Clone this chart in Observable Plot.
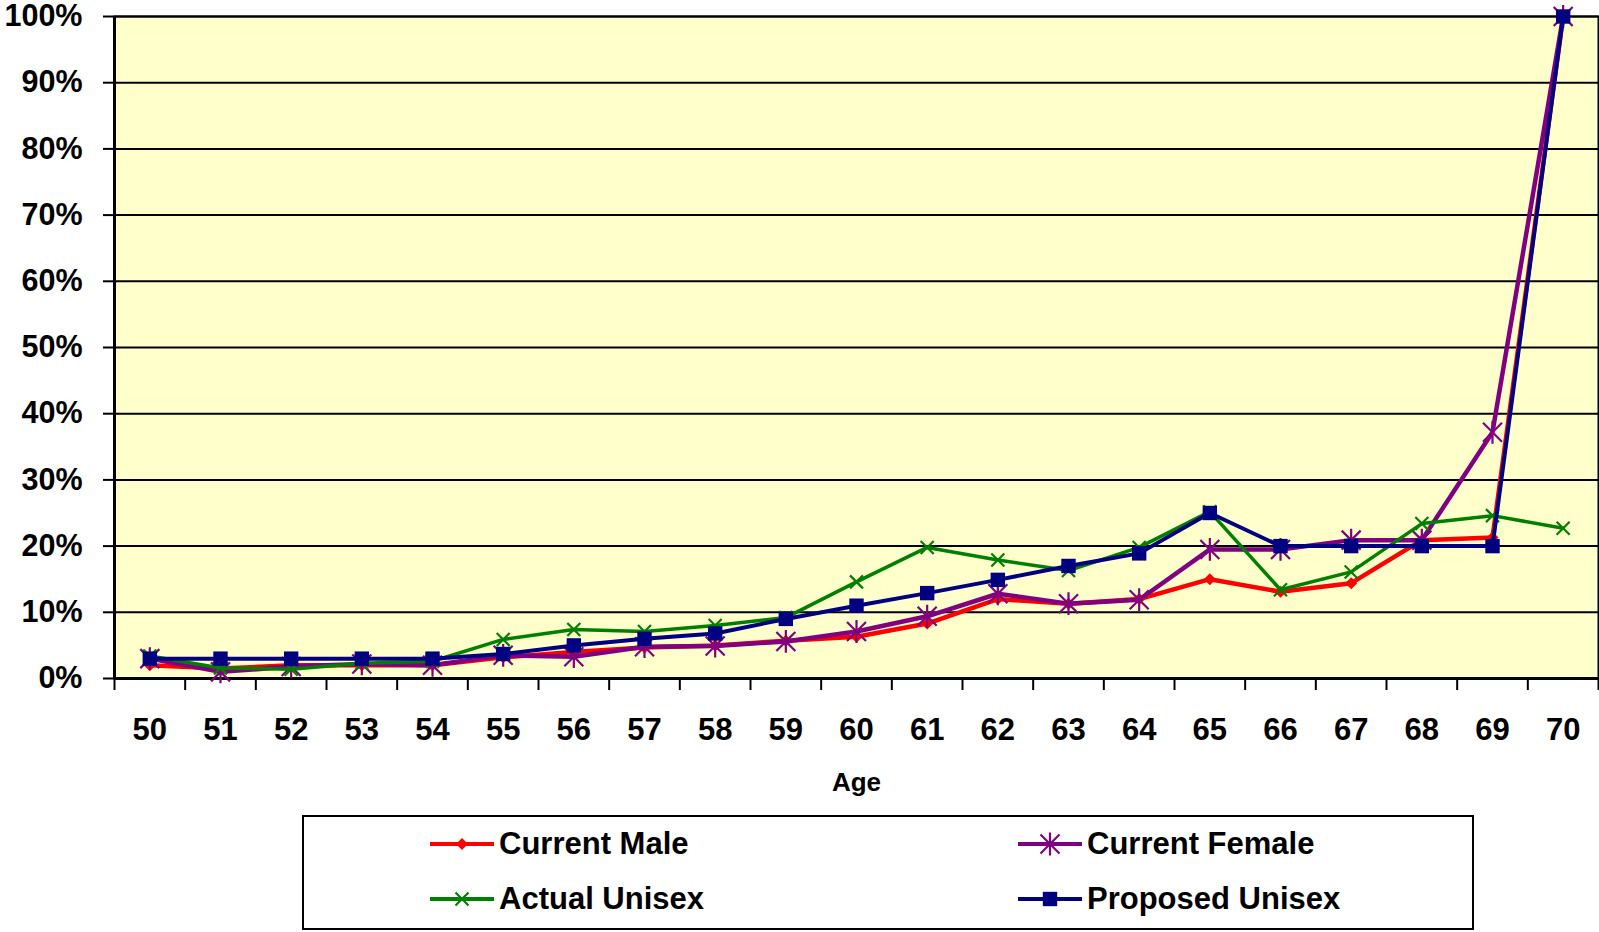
<!DOCTYPE html>
<html><head><meta charset="utf-8">
<script src="https://cdn.jsdelivr.net/npm/d3@7"></script>
<script src="https://cdn.jsdelivr.net/npm/@observablehq/plot@0.6"></script>
<style>
body{margin:0;background:#fff;font-family:"Liberation Sans",Arial,sans-serif;}
#chart{position:absolute;left:0;top:0;}
#legend{position:absolute;left:302px;top:815px;width:1172px;height:115px;border:2px solid #000;box-sizing:border-box;background:#fff;}
.item{position:absolute;display:flex;align-items:center;font-weight:bold;font-size:31px;color:#000;height:40px;}
.item svg{margin-right:5px;}
</style></head><body>
<div id="chart"></div><div id="legend"></div>
<script>
const ages = [50,51,52,53,54,55,56,57,58,59,60,61,62,63,64,65,66,67,68,69,70];
const currentMale    = [2.0,1.5,2.0,2.0,2.0,3.2,4.0,4.7,5.0,5.7,6.3,8.3,12.0,11.3,12.0,15.0,13.1,14.4,20.9,21.3,100];
const currentFemale  = [3.0,1.0,1.8,2.2,2.0,3.5,3.3,4.8,4.9,5.6,7.1,9.4,12.8,11.3,11.9,19.5,19.5,20.9,20.9,37.2,100];
const actualUnisex   = [3.4,1.6,1.4,2.3,2.6,5.9,7.4,7.1,8.0,9.2,14.6,19.8,17.9,16.3,19.8,25.2,13.4,16.1,23.4,24.6,22.7];
const proposedUnisex = [3.0,3.0,3.0,3.0,3.0,3.7,5.0,6.0,6.8,9.0,11.0,12.9,14.9,17.0,18.9,25.0,20.0,20.0,20.0,20.0,100];
const yTicks = [0,10,20,30,40,50,60,70,80,90,100];
const seriesNames = ["Current Male","Current Female","Actual Unisex","Proposed Unisex"];
const seriesValues = [currentMale,currentFemale,actualUnisex,proposedUnisex];
const seriesColors = ["#FF0000","#800080","#008000","#000080"];

// marker shapes
const diamond = {draw(ctx,size){const r=Math.sqrt(size/Math.PI);ctx.moveTo(0,-r);ctx.lineTo(r,0);ctx.lineTo(0,r);ctx.lineTo(-r,0);ctx.closePath();}};
const asterisk = {draw(ctx,size){const r=Math.sqrt(size/Math.PI);ctx.moveTo(0,-r*1.2);ctx.lineTo(0,r*1.2);ctx.moveTo(-r,-r);ctx.lineTo(r,r);ctx.moveTo(-r,r);ctx.lineTo(r,-r);}};
const times = {draw(ctx,size){const r=Math.sqrt(size/Math.PI);ctx.moveTo(-r,-r);ctx.lineTo(r,r);ctx.moveTo(-r,r);ctx.lineTo(r,-r);}};
const square = {draw(ctx,size){const r=Math.sqrt(size/Math.PI);ctx.rect(-r,-r,2*r,2*r);}};
const markers = [
  {symbol: diamond, r: 6, fill: seriesColors[0], stroke: "none", sw: 0, lw: 4.5},
  {symbol: asterisk, r: 9.5, fill: "none", stroke: seriesColors[1], sw: 2.2, lw: 4.5},
  {symbol: times, r: 6.5, fill: "none", stroke: seriesColors[2], sw: 2.2, lw: 3.5},
  {symbol: square, r: 7.2, fill: seriesColors[3], stroke: "none", sw: 0, lw: 4}
];

const rows = seriesNames.map((name, i) => ages.map((a, j) => ({age: a, value: seriesValues[i][j], series: name})));
const bounds = d3.range(ages[0] - 0.5, ages[ages.length - 1] + 1, 1);

const marks = [
  Plot.frame({fill: "#FFFFCC"}),
  Plot.gridY(yTicks, {stroke: "#000", strokeOpacity: 1, strokeWidth: 2}),
  Plot.axisY(yTicks, {label: null, tickSize: 11, tickPadding: 21, tickFormat: d => d + "%", stroke: "#000", strokeWidth: 2, fontSize: 30.5, fontWeight: "bold"}),
  Plot.axisX(ages, {label: null, tickSize: 0, tickPadding: 39, tickFormat: d => String(d), fontSize: 31, fontWeight: "bold"}),
  Plot.axisX(bounds, {label: null, tickSize: 12, tickFormat: () => "", stroke: "#000", strokeWidth: 2}),
  Plot.text(["Age"], {frameAnchor: "bottom", dy: 104, lineAnchor: "middle", fontSize: 26, fontWeight: "bold", fill: "#000"}),
  Plot.frame({stroke: "#000", strokeWidth: 2}),
  Plot.ruleX([bounds[0]], {stroke: "#000", strokeWidth: 3}),
  Plot.ruleY([0], {stroke: "#000", strokeWidth: 3})
];
rows.forEach((data, i) => {
  const m = markers[i];
  marks.push(Plot.line(data, {x: "age", y: "value", stroke: seriesColors[i], strokeWidth: m.lw, strokeLinejoin: "round"}));
  marks.push(Plot.dot(data, {x: "age", y: "value", symbol: m.symbol, r: m.r, fill: m.fill, stroke: m.stroke, strokeWidth: m.sw}));
});

const chart = Plot.plot({
  width: 1599, height: 800,
  marginTop: 16, marginBottom: 122, marginLeft: 114, marginRight: 1,
  style: {fontFamily: "'Liberation Sans', Arial, sans-serif", background: "transparent", color: "#000"},
  x: {type: "linear", domain: [ages[0] - 0.5, ages[ages.length - 1] + 0.5], label: null},
  y: {domain: [0, 100], label: null},
  marks
});
document.getElementById("chart").appendChild(chart);

// legend
const legend = document.getElementById("legend");
const pos = [[126, 7], [714, 7], [126, 62], [714, 62]];
seriesNames.forEach((name, i) => {
  const m = markers[i];
  const div = document.createElement("div");
  div.className = "item";
  div.style.left = pos[i][0] + "px";
  div.style.top = pos[i][1] + "px";
  const sw = d3.create("svg").attr("width", 64).attr("height", 30);
  sw.append("line").attr("x1", 0).attr("x2", 64).attr("y1", 15).attr("y2", 15).attr("stroke", seriesColors[i]).attr("stroke-width", 4);
  const sym = d3.symbol().type(m.symbol).size(Math.PI * m.r * m.r);
  sw.append("path").attr("d", sym()).attr("transform", "translate(32,15)")
    .attr("fill", m.fill).attr("stroke", m.stroke).attr("stroke-width", m.sw);
  div.appendChild(sw.node());
  const span = document.createElement("span");
  span.textContent = name;
  div.appendChild(span);
  legend.appendChild(div);
});
</script>
</body></html>
